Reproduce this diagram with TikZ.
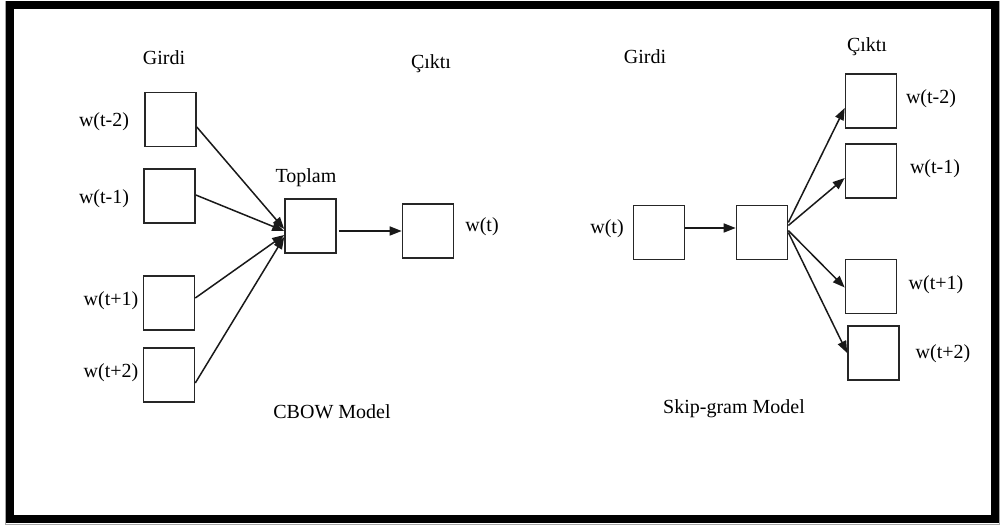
\documentclass[tikz,border=0pt]{standalone}
\usepackage{fontspec}
\setmainfont{Liberation Serif}
\usetikzlibrary{arrows.meta,calc}

\tikzset{
  wbox/.style={draw=black!85, line width=1.6pt, minimum width=51pt, minimum height=54pt, inner sep=0pt},
  lbl/.style={inner sep=0pt, font=\fontsize{20}{23}\selectfont},
  link/.style={draw=black!90, line width=1.5pt, -{Triangle[length=12pt,width=9pt]}},
  frame/.style={draw=black, line width=8pt}
}

\begin{document}
\begin{tikzpicture}[x=1pt,y=-1pt]
  \useasboundingbox (0,0) rectangle (1001,526);
  \fill[white] (0,0) rectangle (1001,526);

  % outer frame with a faint grey edge
  \draw[black!35, line width=1pt] (5,1.5) rectangle (999.5,524);
  \draw[frame] (9.5,5.5) rectangle (995,519);

  % ---------- CBOW ----------
  \node[lbl] (girdiA) at (164,58) {Girdi};
  \node[lbl] (ciktiA) at (431,64) {Çıktı};

  \node[wbox] (a1) at (170.5,119.5) {};
  \node[wbox] (a2) at (169.5,196) {};
  \node[wbox] (a3) at (169,303) {};
  \node[wbox] (a4) at (169,375) {};

  \node[lbl] (la1) at (104,122) {w(t-2)};
  \node[lbl] (la2) at (104,199) {w(t-1)};
  \node[lbl] (la3) at (111,301) {w(t+1)};
  \node[lbl] (la4) at (111,373) {w(t+2)};

  \node[lbl] (toplam) at (306,178) {Toplam};
  \node[wbox] (sum) at (310.5,226) {};
  \node[wbox] (out) at (428,231) {};
  \node[lbl] (lout) at (482,227) {w(t)};

  \node[lbl] (cbow) at (332,412) {CBOW Model};

  \draw[link] ($(a1.east)+(0,7.5)$) -- ($(sum.west)+(0,3)$);
  \draw[link] ($(a2.east)+(0,-1)$) -- ($(sum.west)+(0,5)$);
  \draw[link] ($(a3.east)+(0,-5)$) -- ($(sum.west)+(0,9)$);
  \draw[link] ($(a4.east)+(0,8)$) -- ($(sum.west)+(0,11)$);
  \draw[link] ($(sum.east)+(2,5)$) -- (out.west);

  % ---------- Skip-gram ----------
  \node[lbl] (girdiB) at (645,57) {Girdi};
  \node[lbl] (ciktiB) at (867,47) {Çıktı};

  \node[wbox] (in) at (659,232.5) {};
  \node[lbl] (lin) at (607,229) {w(t)};
  \node[wbox] (hid) at (762,232.5) {};

  \node[wbox] (o1) at (871,101) {};
  \node[wbox] (o2) at (871,171) {};
  \node[wbox] (o3) at (871,286.5) {};
  \node[wbox] (o4) at (873.5,353) {};

  \node[lbl] (lo1) at (931,99) {w(t-2)};
  \node[lbl] (lo2) at (935,169) {w(t-1)};
  \node[lbl] (lo3) at (936,285) {w(t+1)};
  \node[lbl] (lo4) at (943,354) {w(t+2)};

  \node[lbl] (skip) at (734,409) {Skip-gram Model};

  \draw[link] ($(in.east)+(0,-4.5)$) -- ($(hid.west)+(0,-4.5)$);
  \draw[link] ($(hid.east)+(0,-10)$) -- ($(o1.west)+(0,7)$);
  \draw[link] ($(hid.east)+(0,-7)$) -- ($(o2.west)+(0,7)$);
  \draw[link] ($(hid.east)+(0,-2)$) -- ($(o3.west)+(0,1)$);
  \draw[link] ($(hid.east)+(0,0)$) -- ($(o4.west)+(0,0)$);
\end{tikzpicture}
\end{document}
